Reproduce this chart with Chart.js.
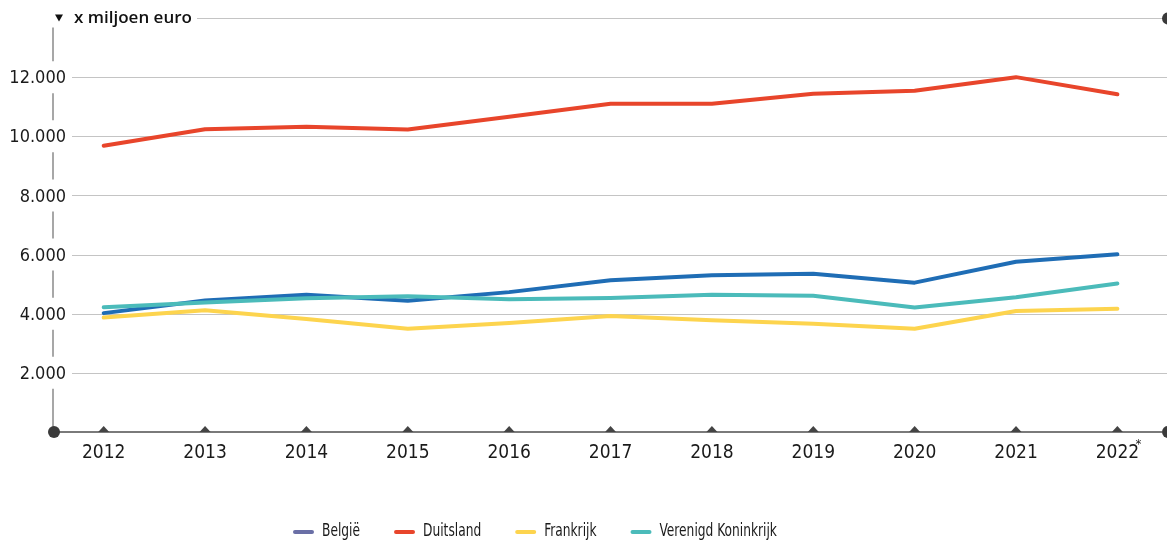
<!DOCTYPE html>
<html>
<head>
<meta charset="utf-8">
<script src="https://cdn.jsdelivr.net/npm/chart.js@4/dist/chart.umd.min.js"></script>
<style>
  html, body { margin: 0; padding: 0; background: #fff; }
  #wrap { width: 1167px; height: 540px; position: relative; }
</style>
</head>
<body>
<div id="wrap"><canvas id="line-chart"></canvas></div>
<script>
// data (x miljoen euro)
const jaren = [2012, 2013, 2014, 2015, 2016, 2017, 2018, 2019, 2020, 2021, 2022];
const jaarLabels = ["2012", "2013", "2014", "2015", "2016", "2017", "2018", "2019", "2020", "2021", "2022"];
const belgie    = [4020, 4450, 4640, 4440, 4730, 5130, 5300, 5350, 5050, 5760, 6010];
const duitsland = [9680, 10240, 10320, 10230, 10660, 11100, 11100, 11440, 11540, 12000, 11420];
const frankrijk = [3870, 4120, 3820, 3490, 3690, 3920, 3780, 3660, 3490, 4090, 4170];
const verenigdKoninkrijk = [4220, 4380, 4520, 4590, 4490, 4530, 4640, 4610, 4210, 4560, 5020];
const yTicks = [2000, 4000, 6000, 8000, 10000, 12000];
const eenheid = "x miljoen euro";

const punten = (arr) => arr.map((v, i) => ({ x: jaren[i], y: v }));
const fmt = (v) => String(v).replace(/\B(?=(\d{3})+(?!\d))/g, ".");

const NARROW = '"DejaVu Sans Condensed", sans-serif';

// axes, gridlines, labels and legend drawn around the library scales
const decor = {
  id: 'decor',
  beforeDatasetsDraw(chart) {
    const ctx = chart.ctx;
    const xs = chart.scales.x, ys = chart.scales.y;
    const axisX = 53;
    ctx.save();

    // gridlines
    ctx.strokeStyle = '#c4c4c4';
    ctx.lineWidth = 1.2;
    yTicks.forEach(t => {
      const y = Math.round(ys.getPixelForValue(t)) + 0.5;
      ctx.beginPath(); ctx.moveTo(72, y); ctx.lineTo(1167, y); ctx.stroke();
    });
    // top line behind the unit title
    const yTop = Math.round(ys.getPixelForValue(ys.max)) + 0.5;
    ctx.beginPath(); ctx.moveTo(197, yTop); ctx.lineTo(1162, yTop); ctx.stroke();

    // vertical axis with gaps at labels
    ctx.strokeStyle = '#8a8a8a';
    ctx.lineWidth = 1.5;
    let start = yTop + 9;
    const gaps = yTicks.map(t => ys.getPixelForValue(t)).sort((a, b) => a - b);
    gaps.forEach(g => {
      ctx.beginPath(); ctx.moveTo(axisX, start); ctx.lineTo(axisX, g - 16); ctx.stroke();
      start = g + 16;
    });
    const yBot = Math.round(ys.getPixelForValue(0));
    ctx.beginPath(); ctx.moveTo(axisX, start); ctx.lineTo(axisX, yBot); ctx.stroke();

    // bottom axis
    ctx.strokeStyle = '#7a7a7a';
    ctx.lineWidth = 2;
    ctx.beginPath(); ctx.moveTo(axisX, yBot); ctx.lineTo(1162, yBot); ctx.stroke();

    // dots
    ctx.fillStyle = '#3a3a3a';
    [[54, yBot], [1168, yBot], [1168, yTop]].forEach(([x, y]) => {
      ctx.beginPath(); ctx.arc(x, y, 6, 0, Math.PI * 2); ctx.fill();
    });

    // tick triangles + year labels
    ctx.fillStyle = '#444';
    jaren.forEach(j => {
      const x = xs.getPixelForValue(j);
      ctx.beginPath();
      ctx.moveTo(x - 5.5, yBot); ctx.lineTo(x + 5.5, yBot); ctx.lineTo(x, yBot - 6);
      ctx.closePath(); ctx.fill();
    });
    ctx.fillStyle = '#1a1a1a';
    ctx.font = '19px ' + NARROW;
    ctx.textAlign = 'center';
    ctx.textBaseline = 'middle';
    jaren.forEach((j, i) => {
      const x = xs.getPixelForValue(j);
      ctx.fillText(jaarLabels[i], x, yBot + 21);
      if (i === jaren.length - 1) {
        ctx.font = '13px ' + NARROW;
        ctx.fillText('*', x + 21, yBot + 13);
        ctx.font = '19px ' + NARROW;
      }
    });

    // y labels
    ctx.textAlign = 'right';
    ctx.font = '18px ' + NARROW;
    yTicks.forEach(t => {
      ctx.fillText(fmt(t), 66, ys.getPixelForValue(t) + 1.5);
    });

    // unit title
    ctx.fillStyle = '#111';
    ctx.beginPath();
    ctx.moveTo(55, yTop - 4); ctx.lineTo(63, yTop - 4); ctx.lineTo(59, yTop + 3);
    ctx.closePath(); ctx.fill();
    ctx.textAlign = 'left';
    ctx.font = '600 17px "Open Sans", sans-serif';
    ctx.fillText(eenheid, 74, yTop);

    // legend (text squeezed horizontally to match narrow font)
    let lx = 293;
    const ly = 532;
    const sx = 0.8;
    ctx.font = '17px ' + NARROW;
    ctx.lineCap = 'round';
    chart.data.datasets.forEach(ds => {
      ctx.strokeStyle = ds.legendColor || ds.borderColor;
      ctx.lineWidth = 4;
      ctx.beginPath(); ctx.moveTo(lx + 2, ly); ctx.lineTo(lx + 19, ly); ctx.stroke();
      ctx.fillStyle = '#1a1a1a';
      ctx.save();
      ctx.translate(lx + 29, ly);
      ctx.scale(sx, 1);
      ctx.fillText(ds.label, 0, 0);
      ctx.restore();
      lx += 29 + ctx.measureText(ds.label).width * sx + 34;
    });
    ctx.restore();
  }
};

new Chart(document.getElementById("line-chart"), {
  type: 'line',
  data: {
    datasets: [
      { label: "België", data: punten(belgie), borderColor: "#1f6db5", legendColor: "#6a6fa6", order: 4 },
      { label: "Duitsland", data: punten(duitsland), borderColor: "#e8452b", order: 3 },
      { label: "Frankrijk", data: punten(frankrijk), borderColor: "#fdd44e", order: 2 },
      { label: "Verenigd Koninkrijk", data: punten(verenigdKoninkrijk), borderColor: "#4bbbba", order: 1 }
    ]
  },
  options: {
    responsive: true,
    maintainAspectRatio: false,
    animation: false,
    layout: { padding: { left: 53, right: 4, top: 18, bottom: 108 } },
    elements: {
      line: { borderWidth: 4, tension: 0, borderCapStyle: 'round', borderJoinStyle: 'round', fill: false },
      point: { radius: 0, hoverRadius: 0 }
    },
    scales: {
      x: { type: 'linear', min: 2011.5, max: 2022.45, display: false },
      y: { min: 0, max: 14000, display: false }
    },
    plugins: {
      legend: { display: false },
      tooltip: { enabled: false }
    }
  },
  plugins: [decor]
});
</script>
</body>
</html>
